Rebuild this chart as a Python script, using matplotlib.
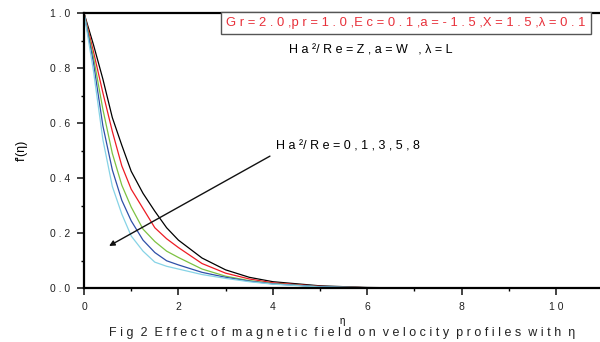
import matplotlib
matplotlib.use("Agg")
import matplotlib.pyplot as plt
import numpy as np

plt.rcParams['font.family'] = ['Liberation Sans', 'DejaVu Sans']

# eta grid and velocity profiles (Ha^2/Re = 0, 1, 3, 5, 8)
eta = [0, 0.2, 0.4, 0.6, 0.8, 1.0, 1.25, 1.5, 1.75, 2.0, 2.5, 3.0, 3.5, 4.0, 5.0, 6.0, 7.0, 8.0, 10.0]
f_ha0 = [1.0, 0.885, 0.76, 0.62, 0.52, 0.425, 0.345, 0.28, 0.22, 0.175, 0.11, 0.067, 0.04, 0.024, 0.009, 0.003, 0.001, 0.0, 0.0]
f_ha1 = [1.0, 0.86, 0.71, 0.57, 0.445, 0.36, 0.29, 0.22, 0.18, 0.148, 0.09, 0.055, 0.034, 0.02, 0.007, 0.002, 0.001, 0.0, 0.0]
f_ha3 = [1.0, 0.84, 0.65, 0.49, 0.375, 0.295, 0.215, 0.17, 0.135, 0.112, 0.07, 0.044, 0.028, 0.017, 0.006, 0.002, 0.0, 0.0, 0.0]
f_ha5 = [1.0, 0.82, 0.59, 0.43, 0.32, 0.245, 0.175, 0.13, 0.10, 0.085, 0.058, 0.04, 0.026, 0.016, 0.006, 0.002, 0.0, 0.0, 0.0]
f_ha8 = [1.0, 0.79, 0.54, 0.37, 0.27, 0.19, 0.135, 0.095, 0.08, 0.07, 0.05, 0.036, 0.024, 0.015, 0.005, 0.002, 0.0, 0.0, 0.0]

xticks = [0, 2, 4, 6, 8, 10]
xtick_labels = ['0', '2', '4', '6', '8', '1 0']
yticks = [0.0, 0.2, 0.4, 0.6, 0.8, 1.0]
ytick_labels = ['0 . 0', '0 . 2', '0 . 4', '0 . 6', '0 . 8', '1 . 0']

fig = plt.figure(figsize=(6, 3.42), dpi=100)
ax = fig.add_axes([0.14, 0.157, 0.86, 0.805])

colors = ['#000000', '#ee1c24', '#7dc242', '#2e4fa8', '#86d3e6']
for ys, c in zip([f_ha0, f_ha1, f_ha3, f_ha5, f_ha8], colors):
    ax.plot(eta, ys, color=c, lw=0.9)

ax.set_xlim(0, 10.93)
ax.set_ylim(0, 1.0)
ax.set_xticks(xticks)
ax.set_xticklabels(xtick_labels)
ax.set_xticks([1, 3, 5, 7, 9], minor=True)
ax.set_yticks(yticks)
ax.set_yticklabels(ytick_labels)
ax.set_yticks([0.1, 0.3, 0.5, 0.7, 0.9], minor=True)
ax.tick_params(which='major', direction='out', length=5, width=1.2, labelsize=7.5, pad=5, colors='#222222')
ax.tick_params(which='minor', direction='out', length=2.5, width=1.0)
for s in ['left', 'bottom', 'top']:
    ax.spines[s].set_linewidth(1.6)
ax.spines['right'].set_visible(False)

ax.set_ylabel("f'(η)", fontsize=9, labelpad=16)
ax.set_xlabel('η', fontsize=7, labelpad=3)

ax.text(0.276, 0.985, 'G r = 2 . 0 ,p r = 1 . 0 ,E c = 0 . 1 ,a = - 1 . 5 ,X = 1 . 5 ,λ = 0 . 1',
        transform=ax.transAxes, fontsize=9.4, color='#e8303a', ha='left', va='top',
        bbox=dict(boxstyle='square,pad=0.4', fc='white', ec='#555555', lw=1.0))
ax.text(4.35, 0.865, 'H a ²/ R e = Z , a = W   , λ = L', fontsize=9, ha='left', va='center')
ax.text(4.06, 0.515, 'H a ²/ R e = 0 , 1 , 3 , 5 , 8', fontsize=9, ha='left', va='center')
ax.annotate('', xy=(0.48, 0.149), xytext=(3.99, 0.485),
            arrowprops=dict(arrowstyle='-|>', color='#111111', lw=1.0, mutation_scale=8))

fig.text(0.57, 0.027, 'F i g  2  E f f e c t  o f  m a g n e t i c  f i e l d  o n  v e l o c i t y  p r o f i l e s  w i t h  η',
         fontsize=9, ha='center', va='center', color='#222222')

fig.savefig('out.png', dpi=100)
